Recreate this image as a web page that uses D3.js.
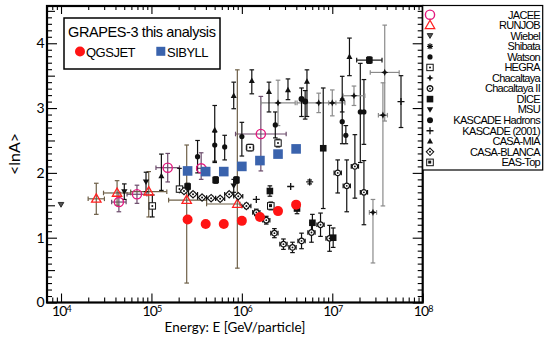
<!DOCTYPE html>
<html><head><meta charset="utf-8">
<script src="https://cdn.jsdelivr.net/npm/d3@7"></script>
<style>body{margin:0;background:#fff}svg{display:block}</style>
</head><body><svg id="c" width="544" height="344"></svg>
<script>
// ---------- data ----------
const xTickExponents = [4, 5, 6, 7, 8];
const yTickValues = [0, 1, 2, 3, 4];
const xTitle = "Energy: E [GeV/particle]";
const yTitle = "<lnA>";
const legendTitle = "GRAPES-3 this analysis";
// GRAPES-3 results: log10(E/GeV)
const grapesLogE = [5.4, 5.6, 5.8, 6.0, 6.2, 6.4, 6.6];
const qgsjetLnA = [1.28, 1.21, 1.21, 1.26, 1.32, 1.41, 1.51];
const sibyllLnA = [2.03, 2.02, 2.02, 2.10, 2.19, 2.29, 2.37];
// other experiments: [log10 E, lnA, errDown, errUp, dlogE-, dlogE+]
const jacee = [[4.64,1.55,0.15,0.15,0.08,0.08],[4.84,1.67,0.14,0.14,0.11,0.11],[5.18,2.08,0.22,0.22,0.13,0.13],[5.55,2.07,0.17,0.24,0.05,0.05],[6.21,2.60,0.57,0.58,0.28,0.28]];
const runjob = [[4.39,1.60,0.24,0.24,0.09,0.09],[4.62,1.69,0.19,0.19,0.15,0.15],[4.97,1.71,0.39,0.31,0.2,0.2],[5.39,1.58,1.28,0.85,0.2,0.22],[5.95,1.52,0.99,2.07,0.34,0.03]];
const wiebel = [[4.00,1.51,0,0,0,0]];
const shibata = [];
const watson = [[5.70,2.43,0.25,0.2,0,0],[5.81,2.40,0.2,0.18,0,0],[5.51,2.25,0.25,0.25,0,0],[6.00,2.56,0.3,0.22,0,0],[6.37,2.74,0.2,0.2,0,0],[7.11,2.79,0.34,0.35,0,0],[7.15,2.58,0.13,0.15,0,0],[7.31,2.94,0.78,0.75,0,0],[7.35,2.94,0.5,0.5,0,0]];
const hegra = [[5.01,1.49,0.17,0.17,0,0],[5.31,1.75,0.04,0.32,0,0],[6.09,2.39,0.05,0.05,0.04,0.04],[6.40,2.46,0.06,0.06,0,0]];
const chacaltaya = [[6.40,3.08,0.35,0.35,0.19,0.19],[6.85,3.08,0.15,0.15,0.24,0.29],[7.00,3.08,0.2,0.2,0.04,0.04],[7.24,3.19,0.15,0.15,0.12,0.12],[7.58,3.55,0.75,0.73,0.16,0.16],[7.56,2.89,1.4,0.5,0.05,0.05],[7.45,1.39,0.78,0.2,0.04,0.04]];
const chacaltaya2 = [[6.16,1.39,0.05,0.05,0.04,0.04],[6.27,1.27,0.06,0.06,0.04,0.04],[6.36,1.07,0.07,0.07,0.04,0.04],[6.46,0.90,0.08,0.08,0.04,0.04],[6.56,0.85,0.08,0.08,0.04,0.04],[6.66,0.95,0.12,0.12,0.04,0.04],[6.77,1.08,0.15,0.15,0.04,0.04],[6.87,1.20,0.18,0.18,0.04,0.04],[6.97,0.99,0.2,0.2,0.04,0.04],[7.06,2.00,0.31,0.2,0.04,0.04],[7.16,1.80,0.4,0.4,0.04,0.04],[7.25,2.10,0.49,0.49,0.04,0.04],[7.35,1.70,0.5,0.49,0.04,0.04]];
const dice = [[5.40,1.79,0.05,0.05,0,0],[5.71,1.89,0.05,0.05,0,0],[5.94,1.89,0.05,0.05,0,0],[6.31,1.72,0.08,0.08,0,0],[6.61,1.45,0.08,0.08,0,0],[6.78,1.23,0.13,0.13,0,0],[7.01,1.00,0.15,0.15,0,0],[6.90,2.38,0.93,0.93,0,0],[7.41,3.74,0.05,0.05,0.14,0.14]];
const msu = [[4.70,1.71,0.12,0.12,0,0],[4.94,1.86,0.15,0.15,0,0],[5.91,1.80,0.1,0.1,0,0]];
const kascadeHadrons = [[6.66,3.14,0.27,0.17,0,0],[6.70,3.10,0.27,0.17,0,0]];
const kascade2001 = [[6.16,1.59,0,0,0,0],[6.54,1.79,0,0,0,0],[6.75,1.86,0.03,0.03,0,0],[7.76,3.10,0.4,0.4,0,0]];
const casaMia = [[5.11,1.95,0.22,0.34,0,0],[5.70,2.66,0.5,0.38,0,0],[5.91,3.19,0.2,0.21,0,0],[6.11,3.42,0.2,0.17,0,0],[6.30,3.25,0.31,0.15,0,0],[6.51,3.28,0.15,0.17,0,0],[6.72,3.41,0.54,0.18,0,0],[7.11,3.14,0.2,0.35,0,0],[7.19,3.79,0.29,0.29,0,0]];
const casaBlanca = [[5.36,1.72,0.03,0.03,0.05,0.05],[5.46,1.67,0.03,0.03,0.05,0.05],[5.56,1.62,0.03,0.03,0.05,0.05],[5.66,1.61,0.03,0.03,0.05,0.05],[5.76,1.60,0.03,0.03,0.05,0.05],[5.86,1.67,0.03,0.03,0.05,0.05],[5.96,1.64,0.03,0.03,0.05,0.05],[6.05,1.49,0.04,0.04,0.05,0.05]];
const easTop = [[6.32,1.49,0.06,0.06,0,0]];
const legendNames = ["JACEE","RUNJOB","Wiebel","Shibata","Watson","HEGRA","Chacaltaya","Chacaltaya II","DICE","MSU","KASCADE Hadrons","KASCADE (2001)","CASA-MIA","CASA-BLANCA","EAS-Top"];

// ---------- setup ----------
const series = [
  {data: jacee, type: "jacee", err: "#6a4a6a"},
  {data: runjob, type: "runjob", err: "#6e6048"},
  {data: wiebel, type: "wiebel", err: "#111"},
  {data: shibata, type: "shibata", err: "#111"},
  {data: watson, type: "watson", err: "#111"},
  {data: hegra, type: "hegra", err: "#111"},
  {data: chacaltaya, type: "chac", err: "#8a8a8a"},
  {data: chacaltaya2, type: "chac2", err: "#111"},
  {data: dice, type: "dice", err: "#111"},
  {data: msu, type: "msu", err: "#111"},
  {data: kascadeHadrons, type: "kasH", err: "#111"},
  {data: kascade2001, type: "kas01", err: "#111"},
  {data: casaMia, type: "casamia", err: "#111"},
  {data: casaBlanca, type: "casab", err: "#111"},
  {data: easTop, type: "eastop", err: "#111"}
];

const svg = d3.select("#c");
const L = 47, R = 422.7, T = 6, B = 302.5;
const x = d3.scaleLog().domain([Math.pow(10, 3.845), 1e8]).range([L, R]);
const y = d3.scaleLinear().domain([0, 4.575]).range([B, T]);
const fontAxis = "Lato, 'Open Sans', sans-serif";

svg.append("rect").attr("width", 544).attr("height", 344).attr("fill", "#fff");

function marker(g, type, cx, cy) {
  const s = g.append("g").attr("transform", `translate(${cx},${cy})`);
  const k = "#111";
  switch (type) {
    case "jacee": s.append("circle").attr("r", 4.6).attr("fill", "none").attr("stroke", "#e3197f").attr("stroke-width", 1.4); break;
    case "runjob": s.append("path").attr("d", "M0,-5L4.7,3.3L-4.7,3.3Z").attr("fill", "none").attr("stroke", "#ff2020").attr("stroke-width", 1.3); break;
    case "wiebel": s.append("path").attr("d", "M-2.8,-2.2L2.8,-2.2L0,2.6Z").attr("fill", "#555").attr("stroke", k).attr("stroke-width", 0.8); break;
    case "shibata": s.append("path").attr("d", "M-3,0H3M0,-3V3M-2.2,-2.2L2.2,2.2M-2.2,2.2L2.2,-2.2").attr("stroke", k).attr("stroke-width", 1.2); break;
    case "watson": s.append("circle").attr("r", 2.6).attr("fill", k); break;
    case "hegra": s.append("rect").attr("x", -3.2).attr("y", -3.2).attr("width", 6.4).attr("height", 6.4).attr("fill", "#fff").attr("stroke", k).attr("stroke-width", 1);
      s.append("circle").attr("r", 1).attr("fill", k); break;
    case "chac": s.append("path").attr("d", "M0,-3.6L1.1,-1.1L3.6,0L1.1,1.1L0,3.6L-1.1,1.1L-3.6,0L-1.1,-1.1Z").attr("fill", k); break;
    case "chac2": s.append("circle").attr("r", 2.8).attr("fill", "#fff").attr("stroke", k).attr("stroke-width", 1.3);
      s.append("circle").attr("r", 0.9).attr("fill", k); break;
    case "dice": s.append("rect").attr("x", -3.3).attr("y", -3.3).attr("width", 6.6).attr("height", 6.6).attr("fill", k); break;
    case "msu": s.append("path").attr("d", "M-3.2,-2.4L3.2,-2.4L0,3Z").attr("fill", k); break;
    case "kasH": s.append("circle").attr("r", 3).attr("fill", k); break;
    case "kas01": s.append("path").attr("d", "M-3.5,0H3.5M0,-3.5V3.5").attr("stroke", k).attr("stroke-width", 1.3); break;
    case "casamia": s.append("path").attr("d", "M0,-3.3L3,2.2L-3,2.2Z").attr("fill", k); break;
    case "casab": s.append("path").attr("d", "M0,-3.7L3.7,0L0,3.7L-3.7,0Z").attr("fill", "#fff").attr("stroke", k).attr("stroke-width", 1.1);
      s.append("circle").attr("r", 1).attr("fill", k); break;
    case "eastop": s.append("rect").attr("x", -3.3).attr("y", -3.3).attr("width", 6.6).attr("height", 6.6).attr("fill", "#fff").attr("stroke", k).attr("stroke-width", 1);
      s.append("rect").attr("x", -1.8).attr("y", -1.8).attr("width", 3).attr("height", 3).attr("fill", k); break;
  }
}

// ---------- axes ----------
const majorX = xTickExponents.map(e => Math.pow(10, e));
const minorX = [];
for (let e = 3; e < 8; e++) for (let m = 2; m <= 9; m++) {
  const v = m * Math.pow(10, e);
  if (v >= x.domain()[0] && v <= 1e8) minorX.push(v);
}
const minorY = d3.range(1, 46).map(i => i / 10).filter(v => Math.abs(v - Math.round(v)) > 1e-6 && v <= 4.575);

function clean(g) { g.select(".domain").remove(); g.selectAll("line").attr("stroke", "#000").attr("stroke-width", 1.1); }

svg.append("g").attr("transform", `translate(0,${B})`)
  .call(d3.axisBottom(x).tickValues(minorX).tickSize(-5).tickFormat("")).call(clean);
const xb = svg.append("g").attr("transform", `translate(0,${B})`)
  .call(d3.axisBottom(x).tickValues(majorX).tickSize(-9).tickPadding(4).tickFormat(() => "10")).call(clean);
xb.selectAll("text").attr("font-family", fontAxis).attr("font-size", 14).attr("fill", "#000").attr("letter-spacing", -0.8)
  .each(function (d) {
    d3.select(this).append("tspan").attr("dy", "-0.45em").attr("font-size", 9).text(Math.round(Math.log10(d)));
  });
svg.append("g").attr("transform", `translate(0,${T})`)
  .call(d3.axisTop(x).tickValues(minorX).tickSize(-4).tickFormat("")).call(clean);
svg.append("g").attr("transform", `translate(0,${T})`)
  .call(d3.axisTop(x).tickValues(majorX).tickSize(-8).tickFormat("")).call(clean);

svg.append("g").attr("transform", `translate(${L},0)`)
  .call(d3.axisLeft(y).tickValues(minorY.filter(v => Math.abs(v * 2 - Math.round(v * 2)) > 1e-6)).tickSize(-5).tickFormat("")).call(clean);
svg.append("g").attr("transform", `translate(${L},0)`)
  .call(d3.axisLeft(y).tickValues(minorY.filter(v => Math.abs(v * 2 - Math.round(v * 2)) < 1e-6)).tickSize(-8).tickFormat("")).call(clean);
const yl = svg.append("g").attr("transform", `translate(${L},0)`)
  .call(d3.axisLeft(y).tickValues(yTickValues).tickSize(-10).tickPadding(2.5).tickFormat(d3.format("d"))).call(clean);
yl.selectAll("text").attr("font-family", fontAxis).attr("font-size", 14).attr("fill", "#000");
svg.append("g").attr("transform", `translate(${R},0)`)
  .call(d3.axisRight(y).tickValues(minorY).tickSize(-5).tickFormat("")).call(clean);
svg.append("g").attr("transform", `translate(${R},0)`)
  .call(d3.axisRight(y).tickValues(yTickValues).tickSize(-10).tickFormat("")).call(clean);

svg.append("text").attr("x", 235).attr("y", 331.5).attr("text-anchor", "middle")
  .attr("font-family", fontAxis).attr("font-size", 13.5).text(xTitle);
svg.append("text").attr("transform", "translate(20,154) rotate(-90)").attr("text-anchor", "middle")
  .attr("font-family", fontAxis).attr("font-size", 16).text(yTitle);

// ---------- data marks ----------
const plot = svg.append("g");
const cap = 2.3;
series.forEach(s => {
  const eg = plot.append("g").attr("stroke", s.err).attr("stroke-width", 1.2).attr("fill", "none");
  s.data.forEach(d => {
    const cx = x(Math.pow(10, d[0])), cy = y(d[1]);
    if (d[2] > 0 || d[3] > 0) {
      const y1 = y(d[1] - d[2]), y2 = y(d[1] + d[3]);
      eg.append("line").attr("x1", cx).attr("x2", cx).attr("y1", y1).attr("y2", y2);
      eg.append("line").attr("x1", cx - cap).attr("x2", cx + cap).attr("y1", y1).attr("y2", y1);
      eg.append("line").attr("x1", cx - cap).attr("x2", cx + cap).attr("y1", y2).attr("y2", y2);
    }
    if (d[4] > 0 || d[5] > 0) {
      const x1 = x(Math.pow(10, d[0] - d[4])), x2 = x(Math.pow(10, d[0] + d[5]));
      eg.append("line").attr("x1", x1).attr("x2", x2).attr("y1", cy).attr("y2", cy);
      eg.append("line").attr("x1", x1).attr("x2", x1).attr("y1", cy - cap).attr("y2", cy + cap);
      eg.append("line").attr("x1", x2).attr("x2", x2).attr("y1", cy - cap).attr("y2", cy + cap);
    }
  });
});
series.forEach(s => {
  const mg = plot.append("g");
  s.data.forEach(d => marker(mg, s.type, x(Math.pow(10, d[0])), y(d[1])));
});
// GRAPES-3
plot.append("g").selectAll("rect").data(grapesLogE).join("rect")
  .attr("x", (d) => x(Math.pow(10, d)) - 4.8).attr("y", (d, i) => y(sibyllLnA[i]) - 4.8)
  .attr("width", 9.6).attr("height", 9.6).attr("fill", "#3a63ad");
plot.append("g").selectAll("circle").data(grapesLogE).join("circle")
  .attr("cx", d => x(Math.pow(10, d))).attr("cy", (d, i) => y(qgsjetLnA[i]))
  .attr("r", 5).attr("fill", "#ff1414");

// frame
svg.append("rect").attr("x", L).attr("y", T).attr("width", R - L).attr("height", B - T)
  .attr("fill", "none").attr("stroke", "#000").attr("stroke-width", 2.2);

// ---------- GRAPES legend ----------
const lg = svg.append("g");
lg.append("rect").attr("x", 64).attr("y", 18).attr("width", 156).attr("height", 51)
  .attr("fill", "#fff").attr("stroke", "#000").attr("stroke-width", 1.5);
lg.append("text").attr("x", 68).attr("y", 36.5).attr("font-family", "'Liberation Sans', Arial, sans-serif")
  .attr("font-size", 14.5).attr("letter-spacing", -0.4).text(legendTitle);
lg.append("circle").attr("cx", 80).attr("cy", 51.5).attr("r", 5).attr("fill", "#ff1414");
lg.append("text").attr("x", 86).attr("y", 56.5).attr("font-family", "'Liberation Sans', Arial, sans-serif")
  .attr("font-size", 13).attr("letter-spacing", -0.5).text("QGSJET");
lg.append("rect").attr("x", 156.3).attr("y", 46.8).attr("width", 9).attr("height", 9).attr("fill", "#3a63ad");
lg.append("text").attr("x", 167).attr("y", 56.5).attr("font-family", "'Liberation Sans', Arial, sans-serif")
  .attr("font-size", 13).attr("letter-spacing", -0.5).text("SIBYLL");

// ---------- experiments legend ----------
const rl = svg.append("g");
rl.append("rect").attr("x", 422.7).attr("y", 5.5).attr("width", 120).attr("height", 164.5)
  .attr("fill", "#fff").attr("stroke", "#000").attr("stroke-width", 1.2);
series.forEach((s, i) => {
  const yy = 14.7 + i * 10.55;
  marker(rl, s.type, 430, yy);
  rl.append("text").attr("x", 540).attr("y", yy + 3.8).attr("text-anchor", "end")
    .attr("font-family", "'Liberation Sans', Arial, sans-serif").attr("font-size", 11)
    .attr("letter-spacing", -0.7).text(legendNames[i]);
});
</script></body></html>
